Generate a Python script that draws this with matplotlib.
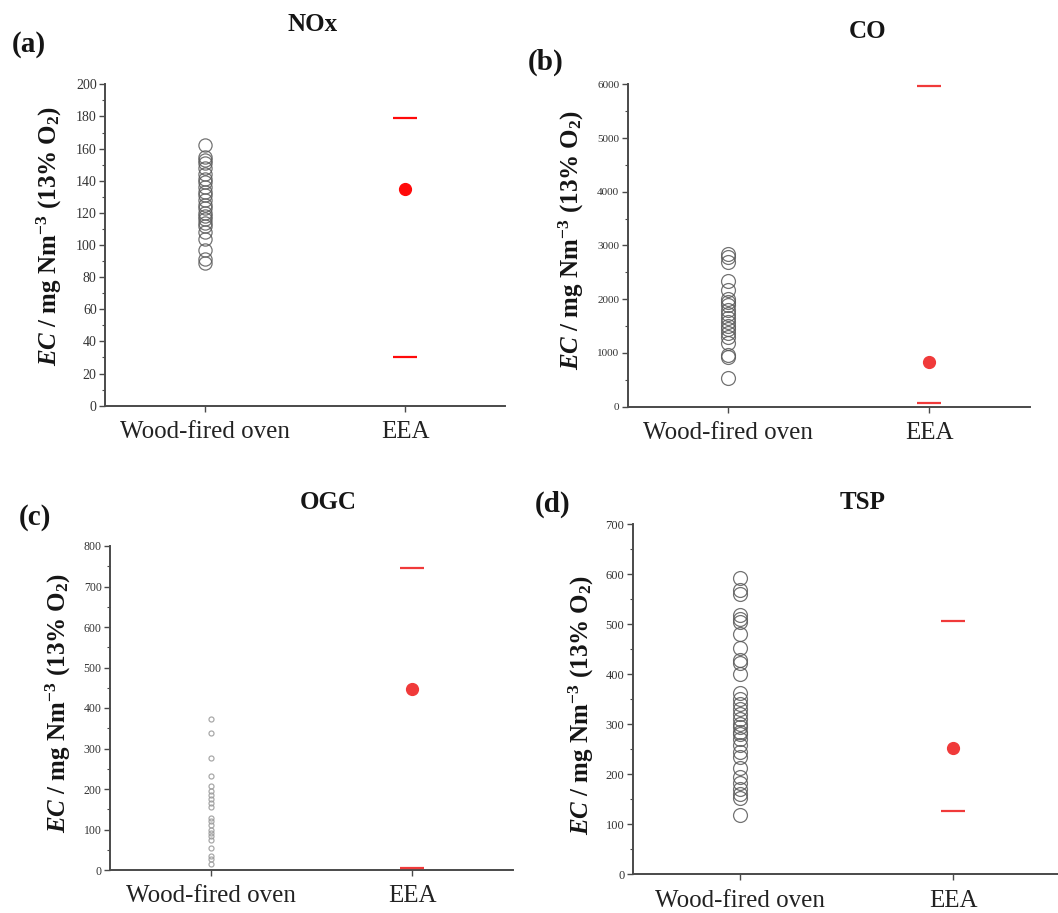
import matplotlib
matplotlib.use('Agg')
import matplotlib.pyplot as plt
from matplotlib.ticker import MultipleLocator

plt.rcParams['font.family'] = ['Liberation Serif', 'DejaVu Serif']
plt.rcParams['mathtext.fontset'] = 'custom'
plt.rcParams['mathtext.rm'] = 'Liberation Serif:bold'
plt.rcParams['mathtext.it'] = 'Liberation Serif:italic:bold'
plt.rcParams['mathtext.bf'] = 'Liberation Serif:bold'

categories = ['Wood-fired oven', 'EEA']
titles = ['NOx', 'CO', 'OGC', 'TSP']
panel_labels = ['(a)', '(b)', '(c)', '(d)']
ylabel = r'$EC$ / mg Nm$^{-3}$ (13% O$_2$)'

nox_wood = [162, 155, 153, 151, 148, 144, 141, 139, 136, 133, 131, 128, 125,
            123, 120, 118, 116, 114, 112, 108, 104, 97, 91, 89]
nox_eea = [135]
nox_eea_range = [30, 179]

co_wood = [2850, 2780, 2700, 2340, 2170, 2000, 1950, 1890, 1800, 1720, 1650,
           1580, 1500, 1450, 1380, 1300, 1180, 960, 920, 540]
co_eea = [840]
co_eea_range = [75, 5970]

ogc_wood = [372, 338, 276, 232, 207, 195, 185, 175, 165, 155, 128, 120, 110,
            100, 92, 83, 75, 55, 35, 28, 15]
ogc_eea = [447]
ogc_eea_range = [6, 745]

tsp_wood = [592, 568, 560, 518, 510, 505, 480, 452, 428, 422, 400, 362, 350,
            340, 330, 320, 310, 300, 295, 285, 280, 270, 258, 245, 235, 212,
            195, 182, 170, 160, 152, 119]
tsp_eea = [253]
tsp_eea_range = [127, 506]

W, H = 1058, 913
fig = plt.figure(figsize=(W / 100, H / 100), dpi=100)


def box(x0, y0, x1, y1):
    return [x0 / W, 1 - y1 / H, (x1 - x0) / W, (y1 - y0) / H]


panels = [
    dict(rect=box(105, 84.3, 505, 405.7), wood=nox_wood, eea=nox_eea, rng=nox_eea_range,
         ymax=200, major=20, minor=10, tsize=10, ms=9.5, mec='#5a5a5a', red='#ff0a0a',
         ylab=(-0.14, 0.528), title=(313, 24.5), plab=(29, 44)),
    dict(rect=box(627.7, 84.3, 1030, 406.7), wood=co_wood, eea=co_eea, rng=co_eea_range,
         ymax=6000, major=1000, minor=500, tsize=8, ms=10, mec='#5a5a5a', red='#f03a3a',
         ylab=(-0.141, 0.517), title=(868, 32), plab=(546, 62)),
    dict(rect=box(110, 546, 513, 870), wood=ogc_wood, eea=ogc_eea, rng=ogc_eea_range,
         ymax=800, major=100, minor=50, tsize=8.5, ms=3.6, mec='#9a9a9a', red='#f03a3a',
         ylab=(-0.129, 0.515), title=(328, 502), plab=(35, 517)),
    dict(rect=box(632.7, 524.3, 1060, 874.3), wood=tsp_wood, eea=tsp_eea, rng=tsp_eea_range,
         ymax=700, major=100, minor=50, tsize=9, ms=10, mec='#5a5a5a', red='#f03a3a',
         ylab=(-0.119, 0.484), title=(863, 502), plab=(553, 504)),
]

for i, p in enumerate(panels):
    ax = fig.add_axes(p['rect'])
    ax.plot([1] * len(p['wood']), p['wood'], linestyle='none', marker='o',
            ms=p['ms'], mfc='none', mec=p['mec'], mew=0.9, alpha=0.85, clip_on=False)
    ax.plot([2] * len(p['eea']), p['eea'], linestyle='none', marker='o',
            ms=8.5, color=p['red'], clip_on=False, zorder=3)
    ax.plot([2] * len(p['rng']), p['rng'], linestyle='none', marker='_',
            ms=17, mew=1.6, color=p['red'], clip_on=False, zorder=3)
    ax.set_xlim(0.5, 2.5)
    ax.set_ylim(0, p['ymax'])
    for s in ('top', 'right'):
        ax.spines[s].set_visible(False)
    for s in ('left', 'bottom'):
        ax.spines[s].set_color('#4a4a4a')
        ax.spines[s].set_linewidth(1.4)
    ax.set_xticks([1, 2])
    ax.set_xticklabels(categories, fontsize=18, color='#222222')
    ax.yaxis.set_major_locator(MultipleLocator(p['major']))
    ax.yaxis.set_minor_locator(MultipleLocator(p['minor']))
    ax.tick_params(axis='y', which='major', direction='out', length=4, width=1,
                   color='#4a4a4a', labelsize=p['tsize'], labelcolor='#333333', pad=2)
    ax.tick_params(axis='y', which='minor', direction='out', length=2.5, width=0.8,
                   color='#4a4a4a')
    ax.tick_params(axis='x', direction='out', length=4, width=1, color='#4a4a4a', pad=7)
    ax.set_ylabel(ylabel, fontsize=18, fontweight='bold', color='#151515', va='center')
    ax.yaxis.set_label_coords(*p['ylab'])
    fig.text(p['title'][0] / W, 1 - p['title'][1] / H, titles[i], fontsize=18,
             fontweight='bold', ha='center', va='center', color='#151515')
    fig.text(p['plab'][0] / W, 1 - p['plab'][1] / H, panel_labels[i], fontsize=21,
             fontweight='bold', ha='center', va='center', color='#151515')

fig.savefig('out.png', dpi=100)
